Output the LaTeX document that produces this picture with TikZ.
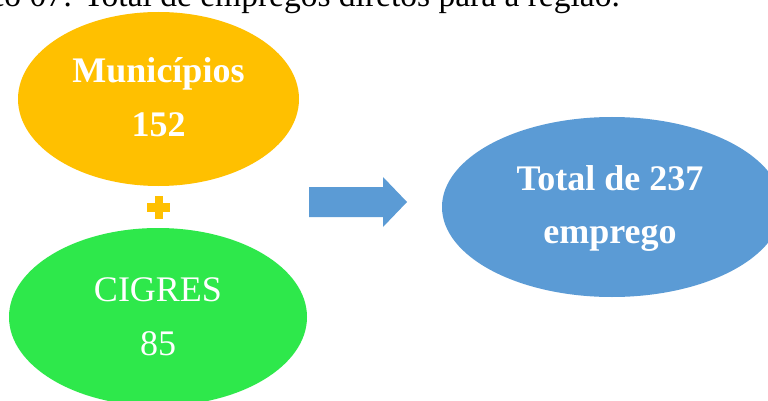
\documentclass[tikz,border=0pt]{standalone}
\usepackage{fontspec}
\setmainfont{Liberation Serif}
\usetikzlibrary{shapes.geometric}
\definecolor{cyellow}{RGB}{255,192,0}
\definecolor{cgreen}{RGB}{46,232,75}
\definecolor{cblue}{RGB}{91,155,213}
\begin{document}
\begin{tikzpicture}[x=1pt,y=-1pt,
  blob/.style={ellipse, inner sep=0pt, outer sep=0pt, draw=none},
  bigtxt/.style={text=white, inner sep=0pt, anchor=base, font=\fontsize{36}{43}\selectfont},
  bigbold/.style={bigtxt, font=\fontsize{36}{43}\selectfont\bfseries}]
\useasboundingbox (0,0) rectangle (768,401);
\fill[white] (0,0) rectangle (768,401);
% caption (top cut off)
\node[anchor=base east, inner sep=0pt, font=\fontsize{33.5}{40}\selectfont] (cap) at (620,7) {Gráfico 07: Total de empregos diretos para a região.};
% ellipses
\node[blob, fill=cyellow, minimum width=281pt, minimum height=174pt] (mun) at (158.5,99) {};
\node[blob, fill=cgreen, minimum width=298pt, minimum height=178pt] (cig) at (158,317) {};
\node[blob, fill=cblue, minimum width=340pt, minimum height=180pt] (tot) at (612,207) {};
% texts
\node[bigbold] (mun1) at (158.5,83) {Municípios};
\node[bigbold] (mun2) at (158.5,136) {152};
\node[bigtxt] (cig1) at (158,301) {CIGRES};
\node[bigtxt] (cig2) at (158,355) {85};
\node[bigbold] (tot1) at (610,190) {Total de 237};
\node[bigbold] (tot2) at (610,243) {emprego};
% plus sign
\fill[cyellow] (147,203) rectangle (170,212);
\fill[cyellow] (155,196) rectangle (163,219);
% block arrow
\fill[cblue] (309,187) -- (383,187) -- (383,177) -- (407,202) -- (383,227) -- (383,217) -- (309,217) -- cycle;
\end{tikzpicture}
\end{document}
